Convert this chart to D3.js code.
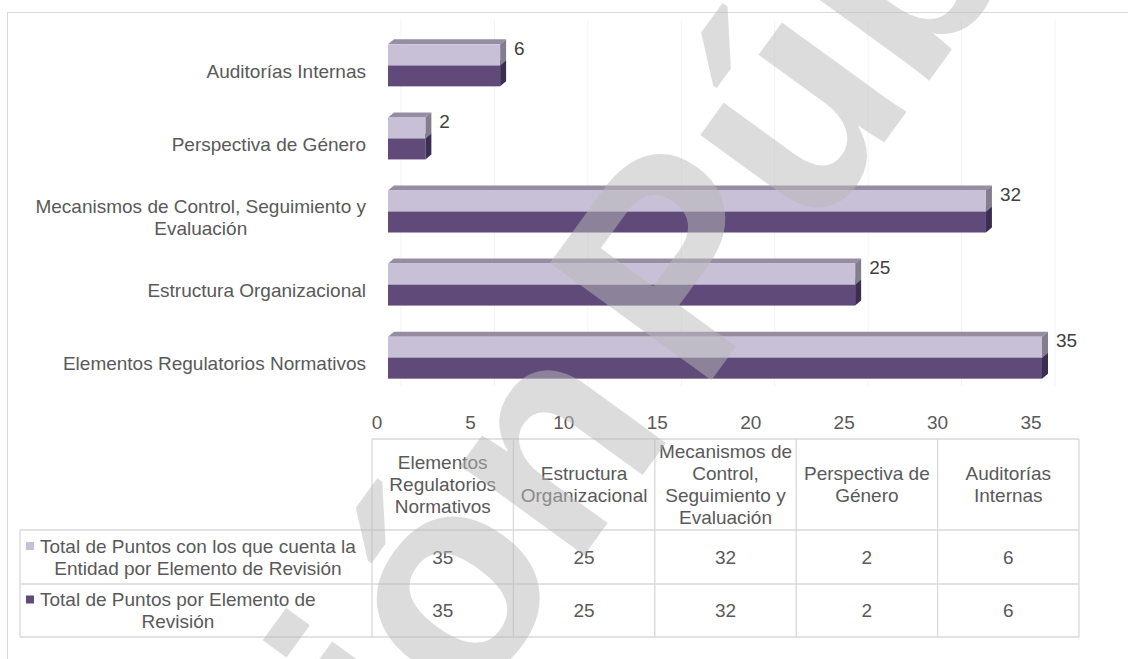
<!DOCTYPE html>
<html>
<head>
<meta charset="utf-8">
<script src="https://cdn.jsdelivr.net/npm/d3@7"></script>
<style>
  body { margin: 0; background: #fff; }
  svg text { font-family: "Liberation Sans", Arial, sans-serif; }
</style>
</head>
<body>
<div id="chart"></div>
<script>
// Chart data
const categories = [
    'Elementos Regulatorios Normativos',
    'Estructura Organizacional',
    'Mecanismos de Control, Seguimiento y Evaluación',
    'Perspectiva de Género',
    'Auditorías Internas'
];
const puntosEntidad = [35, 25, 32, 2, 6];   // light series
const puntosTotales = [35, 25, 32, 2, 6];   // dark series
const seriesNames = [
    'Total de Puntos con los que cuenta la Entidad por Elemento de Revisión',
    'Total de Puntos por Elemento de Revisión'
];
const xTicks = [0, 5, 10, 15, 20, 25, 30, 35];

// How the texts wrap in the picture
const categoryLines = [
    ['Elementos Regulatorios Normativos'],
    ['Estructura Organizacional'],
    ['Mecanismos de Control, Seguimiento y', 'Evaluación'],
    ['Perspectiva de Género'],
    ['Auditorías Internas']
];
const headerLines = [
    ['Elementos', 'Regulatorios', 'Normativos'],
    ['Estructura', 'Organizacional'],
    ['Mecanismos de', 'Control,', 'Seguimiento y', 'Evaluación'],
    ['Perspectiva de', 'Género'],
    ['Auditorías', 'Internas']
];
const legendLines = [
    ['Total de Puntos con los que cuenta la', 'Entidad por Elemento de Revisión'],
    ['Total de Puntos por Elemento de', 'Revisión']
];

function drawChart() {
    const width = 1128, height = 659;
    const textColor = '#595959';
    const gridColor = '#d9d9d9';
    const fontSize = 19;
    const lineH = 22;

    // colours: front, top, side
    const seriesColors = [
        {front: '#c8c0d6', top: '#978da3', side: '#837d8e'},
        {front: '#5f4a7a', top: '#4a3a60', side: '#3c2e52'}
    ];
    const depth = {dx: 6, dy: -5};

    const svg = d3.select('#chart')
        .append('svg')
        .attr('width', width)
        .attr('height', height);

    // outer chart border
    svg.append('rect')
        .attr('x', 7.5).attr('y', 12.5)
        .attr('width', 1200).attr('height', 700)
        .attr('fill', 'none')
        .attr('stroke', gridColor);

    // Scales
    const x = d3.scaleLinear().domain([0, 35]).range([388, 1042]);
    const y = d3.scaleBand()
        .domain(categories)
        .range([394, 29])
        .paddingInner(0.425)
        .paddingOuter(0.21);
    const ySub = d3.scaleBand().domain([0, 1]).range([0, y.bandwidth()]);

    // faint back-wall gridlines
    svg.append('g')
        .selectAll('line')
        .data(xTicks)
        .enter()
        .append('line')
        .attr('x1', d => x(d) + 13).attr('x2', d => x(d) + 13)
        .attr('y1', 20).attr('y2', 386)
        .attr('stroke', '#f3f3f3');

    // x tick labels (on the floor, a bit left of the bars)
    svg.append('g')
        .selectAll('text')
        .data(xTicks)
        .enter()
        .append('text')
        .attr('x', d => x(d) - 11)
        .attr('y', 422)
        .attr('dy', '0.35em')
        .attr('text-anchor', 'middle')
        .attr('font-size', fontSize)
        .attr('fill', textColor)
        .text(d => d);

    // 3D bars: dark series first so the light one sits over its top face
    const barData = [];
    categories.forEach((c, i) => {
        barData.push({cat: c, s: 1, v: puntosTotales[i]});
        barData.push({cat: c, s: 0, v: puntosEntidad[i]});
    });

    const bars = svg.append('g').attr('class', 'bars');
    barData.forEach(d => {
        const x0 = x(0), x1 = x(d.v);
        const y0 = y(d.cat) + ySub(d.s);
        const y1 = y0 + ySub.bandwidth();
        const col = seriesColors[d.s];
        const g = bars.append('g');
        // top face
        g.append('polygon')
            .attr('points', [[x0, y0], [x0 + depth.dx, y0 + depth.dy],
                [x1 + depth.dx, y0 + depth.dy], [x1, y0]].join(' '))
            .attr('fill', col.top);
        // side face
        g.append('polygon')
            .attr('points', [[x1, y0], [x1 + depth.dx, y0 + depth.dy],
                [x1 + depth.dx, y1 + depth.dy], [x1, y1]].join(' '))
            .attr('fill', col.side);
        // front face
        g.append('rect')
            .attr('x', x0).attr('y', y0)
            .attr('width', x1 - x0).attr('height', y1 - y0)
            .attr('fill', col.front);
    });

    // value labels beside each pair
    svg.append('g')
        .selectAll('text')
        .data(categories)
        .enter()
        .append('text')
        .attr('x', (d, i) => x(puntosEntidad[i]) + 14)
        .attr('y', d => y(d) + 4)
        .attr('dy', '0.35em')
        .attr('font-size', fontSize)
        .attr('fill', '#404040')
        .text((d, i) => puntosEntidad[i]);

    // helper: block of lines, centred on each other, block aligned left or right
    function textBlock(parent, lines, anchorX, align, cy) {
        const g = parent.append('g');
        const texts = lines.map((t, k) => g.append('text')
            .attr('y', cy + (k - (lines.length - 1) / 2) * lineH)
            .attr('dy', '0.35em')
            .attr('text-anchor', 'middle')
            .attr('font-size', fontSize)
            .attr('fill', textColor)
            .text(t));
        const w = d3.max(texts, t => t.node().getComputedTextLength());
        const cx = align === 'right' ? anchorX - w / 2 : anchorX + w / 2;
        texts.forEach(t => t.attr('x', cx));
        return g;
    }

    // category labels
    const catG = svg.append('g');
    categories.forEach((c, i) => {
        textBlock(catG, categoryLines[i], 366, 'right', y(c) + y.bandwidth() / 2 + 6);
    });

    // Data table
    const col = d3.scaleBand().domain(categories).range([372, 1079]);
    const rowY = [439, 530, 584, 637];
    const table = svg.append('g').attr('stroke', gridColor).attr('stroke-width', 1.3);
    table.append('line').attr('x1', 372).attr('x2', 1079).attr('y1', rowY[0]).attr('y2', rowY[0]);
    rowY.slice(1).forEach(ry => {
        table.append('line').attr('x1', 20).attr('x2', 1079).attr('y1', ry).attr('y2', ry);
    });
    categories.concat([null]).forEach((c, i) => {
        const cx = c === null ? 1079 : col(c);
        table.append('line').attr('x1', cx).attr('x2', cx).attr('y1', rowY[0]).attr('y2', rowY[3]);
    });
    table.append('line').attr('x1', 20).attr('x2', 20).attr('y1', rowY[1]).attr('y2', rowY[3]);

    const tableText = svg.append('g');
    categories.forEach((c, i) => {
        const cx = col(c) + col.bandwidth() / 2;
        headerLines[i].forEach((t, k) => {
            tableText.append('text')
                .attr('x', cx)
                .attr('y', (rowY[0] + rowY[1]) / 2 + (k - (headerLines[i].length - 1) / 2) * lineH)
                .attr('dy', '0.35em')
                .attr('text-anchor', 'middle')
                .attr('font-size', fontSize)
                .attr('fill', textColor)
                .text(t);
        });
        [puntosEntidad[i], puntosTotales[i]].forEach((v, r) => {
            tableText.append('text')
                .attr('x', cx)
                .attr('y', (rowY[r + 1] + rowY[r + 2]) / 2)
                .attr('dy', '0.35em')
                .attr('text-anchor', 'middle')
                .attr('font-size', fontSize)
                .attr('fill', textColor)
                .text(v);
        });
    });

    // legend keys in the first column
    seriesNames.forEach((name, r) => {
        const cy = (rowY[r + 1] + rowY[r + 2]) / 2;
        textBlock(tableText, legendLines[r], 40, 'left', cy);
        tableText.append('rect')
            .attr('x', 26).attr('y', cy - lineH / 2 - 4)
            .attr('width', 8).attr('height', 8)
            .attr('fill', seriesColors[r].front);
    });

    // watermark across the whole picture
    const wm = svg.append('g')
        .attr('transform', 'translate(700,396) rotate(-54)')
        .attr('fill', '#bababa')
        .attr('opacity', 0.5)
        .attr('font-size', 290)
        .attr('font-weight', 'bold')
        .style('pointer-events', 'none');
    wm.append('text').attr('text-anchor', 'end').attr('x', -40).text('Versión ');
    wm.append('text').attr('text-anchor', 'start').text('Pública');
}

document.addEventListener('DOMContentLoaded', drawChart);
</script>
</body>
</html>
